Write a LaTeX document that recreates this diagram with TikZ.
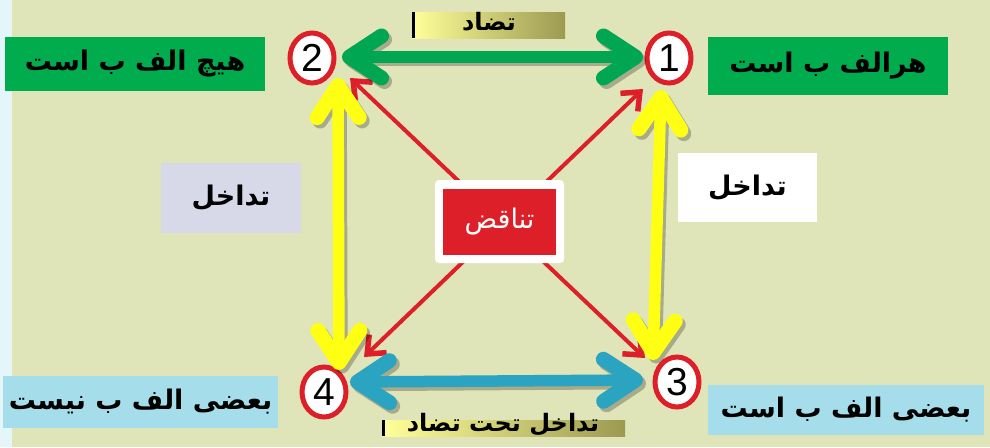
\documentclass[tikz,border=0pt]{standalone}
\usepackage{fontspec}
\usetikzlibrary{arrows.meta,shapes.geometric,calc}
\TeXXeTstate=1
\newfontfamily\fa[Script=Arabic]{DejaVu Sans}
\newfontfamily\numfont{Liberation Sans}
\definecolor{bgmain}{HTML}{DFE5B9}
\definecolor{bgstrip}{HTML}{E5F6FB}
\definecolor{boxgreen}{HTML}{00AC4E}
\definecolor{arrgreen}{HTML}{00A652}
\definecolor{arrcyan}{HTML}{2BA4C2}
\definecolor{boxblue}{HTML}{A6DDEA}
\definecolor{arryellow}{HTML}{FFFF14}
\definecolor{redc}{HTML}{DC1F28}
\definecolor{lavender}{HTML}{D7D8E8}
\definecolor{labyellow}{HTML}{FFFF9A}
\definecolor{labolive}{HTML}{9C9A52}
\tikzset{
  statebox/.style={fill=boxgreen, minimum width=260pt, minimum height=54pt, inner sep=0pt,
    font=\fa\bfseries\fontsize{27}{30}\selectfont},
  numcircle/.style={ellipse, draw=redc, line width=5pt, fill=white, minimum width=44pt,
    minimum height=50pt, inner sep=0pt, font=\numfont\fontsize{39}{39}\selectfont},
  relbox/.style={minimum width=140pt, minimum height=70pt, inner sep=0pt,
    font=\fa\bfseries\fontsize{27}{30}\selectfont},
  bigtip/.tip={Straight Barb[length=32pt,width=42pt,line width=15pt,round]},
  biglink/.style={line width=11.5pt, line cap=round, bigtip-bigtip},
  smalltip/.tip={Straight Barb[length=15pt,width=25pt,line width=5.5pt]},
  thinlink/.style={line width=4pt, draw=redc, smalltip-smalltip},
  linkshadow/.style={draw=black, opacity=0.25, transform canvas={shift={(3pt,-3.5pt)}}},
  labelbar/.style={left color=labyellow, right color=labolive, minimum height=26pt, inner sep=0pt},
}
\begin{document}
\begin{tikzpicture}[x=1pt, y=-1pt]
\useasboundingbox (0,0) rectangle (990,447);
% background
\fill[bgmain] (0,0) rectangle (990,447);
\fill[bgstrip] (0,0) rectangle (12,447);

% numbered corners
\node[numcircle] (n2) at (312,58) {2};
\node[numcircle] (n1) at (669,58) {1};
\node[numcircle] (n3) at (677,382) {3};
\node[numcircle] (n4) at (324,392) {4};

% contradiction diagonals (behind the central box)
\draw[thinlink] ($(n2)+(38,20)$) -- ($(n3)+(-32,-24)$);
\draw[thinlink] ($(n1)+(-26,31)$) -- ($(n4)+(40,-35)$);

% central box
\node[fill=white, rounded corners=4pt, minimum width=129pt, minimum height=83pt] (ctr) at (499.5,221.5) {};
\node[fill=redc, minimum width=113pt, minimum height=66pt, text=white,
  font=\fa\fontsize{27}{30}\selectfont] (contra) at (ctr) {\beginR تناقض\endR};

% thick double arrows with drop shadows
\draw[biglink, linkshadow] ($(n2)+(30,-1)$) -- ($(n1)+(-26,-1)$);
\draw[biglink, draw=arrgreen] ($(n2)+(30,-1)$) -- ($(n1)+(-26,-1)$);
\draw[biglink, linkshadow] ($(n4)+(26,-10)$) -- ($(n3)+(-34,-2)$);
\draw[biglink, draw=arrcyan] ($(n4)+(26,-10)$) -- ($(n3)+(-34,-2)$);
\draw[biglink, linkshadow] ($(n2)+(26,20)$) -- ($(n4)+(15,-22)$);
\draw[biglink, draw=arryellow] ($(n2)+(26,20)$) -- ($(n4)+(15,-22)$);
\draw[biglink, linkshadow] ($(n1)+(-8,32)$) -- ($(n3)+(-24,-22)$);
\draw[biglink, draw=arryellow] ($(n1)+(-8,32)$) -- ($(n3)+(-24,-22)$);

% statements
\node[statebox] (s2) at (135,63.5) {\beginR هیچ الف ب است\endR};
\node[statebox, minimum width=240pt, minimum height=58pt] (s1) at (828,66) {\beginR هرالف ب است\endR};
\node[statebox, fill=boxblue, minimum width=275pt, minimum height=52pt] (s4) at (140.5,402) {\beginR بعضی الف ب نیست\endR};
\node[statebox, fill=boxblue, minimum width=276pt, minimum height=50pt] (s3) at (846,410) {\beginR بعضی الف ب است\endR};

% subalternation labels
\node[relbox, fill=lavender] (t2) at (231,197.5) {\beginR تداخل\endR};
\node[relbox, fill=white, minimum width=139pt, minimum height=69pt] (t1) at (747.5,187.5) {\beginR تداخل\endR};

% contrary / subcontrary labels
\node[labelbar, minimum width=153pt] (lc) at (488.5,25) {};
\fill[black] (lc.north west) rectangle ++(3,26);
\node[font=\fa\bfseries\fontsize{24}{28}\selectfont] at (489,22) {\beginR تضاد\endR};
\node[labelbar, minimum width=243pt, minimum height=16pt] (ls) at (503.5,428) {};
\fill[black] (ls.north west) rectangle ++(3,16);
\node[font=\fa\bfseries\fontsize{24}{28}\selectfont] at (503,425) {\beginR تداخل تحت تضاد\endR};
\end{tikzpicture}
\end{document}
